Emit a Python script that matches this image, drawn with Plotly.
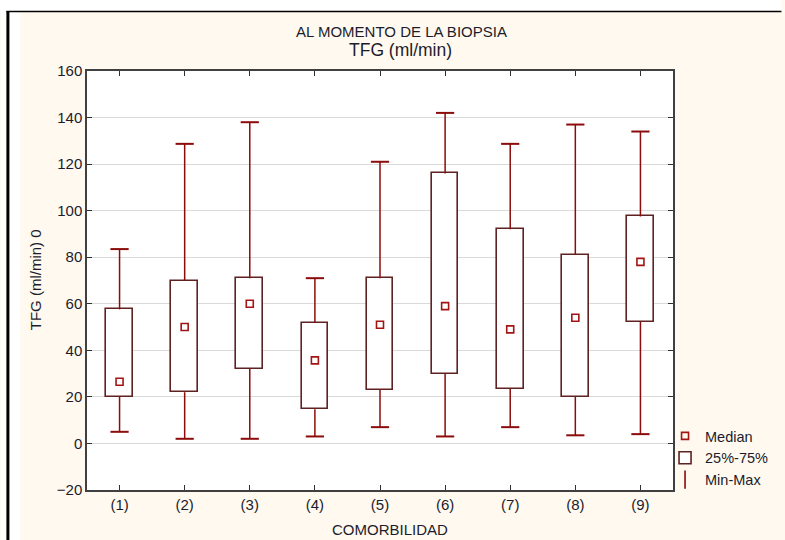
import plotly.graph_objects as go

# ---- data ----
categories = ["(1)", "(2)", "(3)", "(4)", "(5)", "(6)", "(7)", "(8)", "(9)"]
minimum = [5, 2, 2, 3, 7, 3, 7, 3.5, 4]
q1 = [20, 22, 32, 14.7, 23, 30, 23.4, 20, 52.3]
median = [26.5, 50, 60, 35.7, 51, 59, 49, 54, 78]
q3 = [57.6, 70, 71, 51.7, 71, 116, 92, 81, 97.5]
maximum = [83.5, 128.7, 138, 71, 121, 142, 128.7, 137, 134]
y_ticks = [-20, 0, 20, 40, 60, 80, 100, 120, 140, 160]

W, H = 785, 540
L, R, T, B = 87, 109, 71, 50
PW, PH = W - L - R, H - T - B


def px_x(px):
    return (px - L) / PW


def px_y(py):
    return (H - B - py) / PH


BOX_LINE = "#5e2222"
WHISK = "#8c0b0b"
MED = "#a31515"
FONT = "Liberation Sans, Arial, sans-serif"
TXT = "#1c1c2c"

fig = go.Figure()

# IQR boxes
fig.add_trace(go.Bar(
    x=categories, y=[b - a for a, b in zip(q1, q3)], base=q1,
    width=0.41, marker=dict(color="white", line=dict(color=BOX_LINE, width=1.6)),
    name="25%-75%", legendrank=2, showlegend=True,
))

# whiskers
wx, wy = [], []
for c, lo, a, b, hi in zip(categories, minimum, q1, q3, maximum):
    wx += [c, c, None, c, c, None]
    wy += [lo, a, None, b, hi, None]
fig.add_trace(go.Scatter(x=wx, y=wy, mode="lines", line=dict(color=WHISK, width=1.5),
                         showlegend=False, hoverinfo="skip"))

# caps
fig.add_trace(go.Scatter(
    x=categories + categories, y=minimum + maximum, mode="markers",
    marker=dict(symbol="line-ew", size=13, line=dict(color=WHISK, width=2)),
    showlegend=False,
))

# medians
fig.add_trace(go.Scatter(
    x=categories, y=median, mode="markers", name="Median", legendrank=1,
    marker=dict(symbol="square-open", size=7, color=MED, line=dict(color=MED, width=1.6)),
))

# legend entry for Min-Max
fig.add_trace(go.Scatter(
    x=[None], y=[None], mode="markers", name="Min-Max", legendrank=3,
    marker=dict(symbol="line-ns", size=13, line=dict(color=WHISK, width=1.6)),
))

axis_common = dict(
    showline=True, linecolor="#404040", linewidth=1.5, mirror="ticks",
    ticks="inside", ticklen=5, tickcolor="#303030", tickwidth=1.2,
    tickfont=dict(family=FONT, size=15, color=TXT),
)

fig.update_xaxes(type="category", range=[-0.5, len(categories) - 0.5],
                 showgrid=False, **axis_common)
fig.update_yaxes(range=[-20, 160], tickvals=y_ticks, showgrid=True,
                 gridcolor="#dadada", gridwidth=1, zeroline=False, **axis_common)

fig.update_layout(
    width=W, height=H,
    margin=dict(l=L, r=R, t=T, b=B, pad=0),
    paper_bgcolor="#fff9ef", plot_bgcolor="white",
    font=dict(family=FONT, size=14, color=TXT),
    bargap=0,
    legend=dict(x=px_x(668), y=px_y(420), xanchor="left", yanchor="top",
                bgcolor="rgba(0,0,0,0)", font=dict(family=FONT, size=14.5, color=TXT),
                tracegroupgap=0, itemwidth=30),
    annotations=[
        dict(text="AL MOMENTO DE LA BIOPSIA", x=px_x(403), y=px_y(31.5), xref="paper", yref="paper",
             xanchor="center", yanchor="middle", showarrow=False,
             font=dict(family=FONT, size=15, color=TXT)),
        dict(text="TFG (ml/min)", x=px_x(402.5), y=px_y(50), xref="paper", yref="paper",
             xanchor="center", yanchor="middle", showarrow=False,
             font=dict(family=FONT, size=17.5, color=TXT)),
        dict(text="COMORBILIDAD", x=px_x(392), y=px_y(529), xref="paper", yref="paper",
             xanchor="center", yanchor="middle", showarrow=False,
             font=dict(family=FONT, size=15, color=TXT)),
        dict(text="TFG (ml/min) 0", x=px_x(35), y=px_y(280), xref="paper", yref="paper",
             xanchor="center", yanchor="middle", showarrow=False, textangle=-90,
             font=dict(family=FONT, size=15, color=TXT)),
    ],
    shapes=[
        dict(type="rect", xref="paper", yref="paper", x0=px_x(0), x1=px_x(W), y0=px_y(0), y1=px_y(12),
             fillcolor="white", line=dict(width=0), layer="below"),
        dict(type="rect", xref="paper", yref="paper", x0=px_x(0), x1=px_x(20), y0=px_y(0), y1=px_y(H),
             fillcolor="white", line=dict(width=0), layer="below"),
        dict(type="line", xref="paper", yref="paper", x0=px_x(6), x1=px_x(W), y0=px_y(11.5), y1=px_y(11.5),
             line=dict(color="black", width=1.5), layer="below"),
        dict(type="line", xref="paper", yref="paper", x0=px_x(7.5), x1=px_x(7.5), y0=px_y(11), y1=px_y(H),
             line=dict(color="black", width=3), layer="below"),
    ],
)

fig.write_html("out.html")
